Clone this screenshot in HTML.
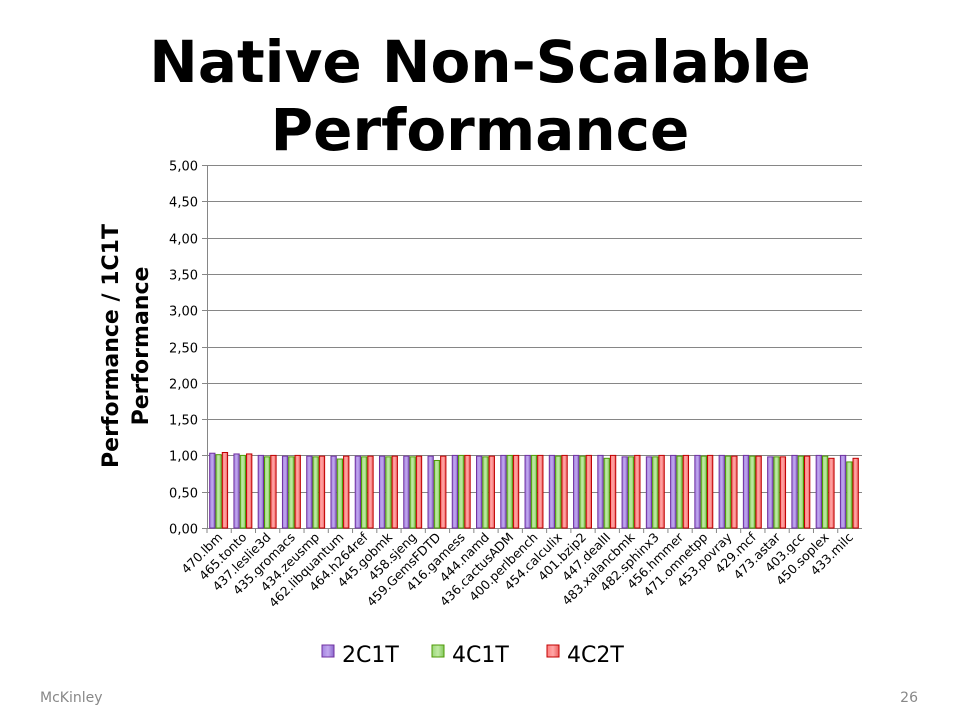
<!DOCTYPE html>
<html><head><meta charset="utf-8"><style>
body{margin:0;background:#fff;width:960px;height:720px;overflow:hidden;font-family:"DejaVu Sans","Liberation Sans",sans-serif}
</style></head><body>
<svg width="960" height="720" id="svg">
<defs>
<linearGradient id="gp" x1="0" x2="1"><stop offset="0" stop-color="#a383e0"/><stop offset="0.5" stop-color="#c2a8ef"/><stop offset="1" stop-color="#8a68cc"/></linearGradient>
<linearGradient id="gg" x1="0" x2="1"><stop offset="0" stop-color="#9bd878"/><stop offset="0.5" stop-color="#c0eaa4"/><stop offset="1" stop-color="#82c85c"/></linearGradient>
<linearGradient id="gr" x1="0" x2="1"><stop offset="0" stop-color="#ff7f7f"/><stop offset="0.5" stop-color="#ffa6a6"/><stop offset="1" stop-color="#ec5f5f"/></linearGradient>
</defs>
<text x="480" y="82" text-anchor="middle" font-size="58" font-weight="bold" font-family="DejaVu Sans,sans-serif">Native Non-Scalable</text>
<text x="480" y="150" text-anchor="middle" font-size="58" font-weight="bold" font-family="DejaVu Sans,sans-serif">Performance</text>
<g transform="translate(118,346) rotate(-90)">
<text x="0" y="0" text-anchor="middle" font-size="22" font-weight="bold">Performance / 1C1T</text>
<text x="0" y="30" text-anchor="middle" font-size="22" font-weight="bold">Performance</text>
</g>
<g id="grid"></g><g id="bars"></g><g id="xl"></g>
<g>
<rect x="322" y="645" width="12" height="12" fill="url(#gp)" stroke="#7030a0"/><text x="342" y="662" font-size="22">2C1T</text>
<rect x="432" y="645" width="12" height="12" fill="url(#gg)" stroke="#4e9a06"/><text x="452" y="662" font-size="22">4C1T</text>
<rect x="547" y="645" width="12" height="12" fill="url(#gr)" stroke="#c00000"/><text x="567" y="662" font-size="22">4C2T</text>
</g>
<text x="40" y="702" font-size="14" fill="#888">McKinley</text>
<text x="918" y="702" font-size="14" fill="#888" text-anchor="end">26</text>
</svg>
<script>
const categories=["470.lbm","465.tonto","437.leslie3d","435.gromacs","434.zeusmp","462.libquantum","464.h264ref","445.gobmk","458.sjeng","459.GemsFDTD","416.gamess","444.namd","436.cactusADM","400.perlbench","454.calculix","401.bzip2","447.dealII","483.xalancbmk","482.sphinx3","456.hmmer","471.omnetpp","453.povray","429.mcf","473.astar","403.gcc","450.soplex","433.milc"];
const s2C1T=[1.03,1.02,1.00,0.99,0.99,0.99,0.99,0.99,0.99,0.99,1.00,0.99,1.00,1.00,1.00,1.00,1.00,0.98,0.98,1.00,1.00,1.00,1.00,0.98,1.00,1.00,1.00];
const s4C1T=[1.01,1.00,0.98,0.98,0.98,0.95,0.98,0.98,0.98,0.93,1.00,0.98,1.00,1.00,0.99,0.99,0.96,0.98,0.98,0.99,0.99,0.99,0.99,0.98,0.99,0.99,0.91];
const s4C2T=[1.04,1.02,1.00,1.00,0.99,0.99,0.99,0.99,0.99,0.99,1.00,0.99,1.00,1.00,1.00,1.00,1.00,1.00,1.00,1.00,1.00,0.99,0.99,0.98,0.99,0.96,0.96];
const yTicks=["0,00","0,50","1,00","1,50","2,00","2,50","3,00","3,50","4,00","4,50","5,00"];
const X0=207,X1=862,Y0=528,Y1=165,YMAX=5;
const y=v=>Y0-(v/YMAX)*(Y0-Y1);
const gw=(X1-X0)/categories.length;
const NS="http://www.w3.org/2000/svg";
function mk(t,a,p){const e=document.createElementNS(NS,t);for(const k in a)e.setAttribute(k,a[k]);p.appendChild(e);return e;}
const grid=document.getElementById('grid');
yTicks.forEach((t,i)=>{const v=i*0.5,yy=Math.round(y(v))+0.5;
const l=mk('line',{x1:X0,x2:X1,y1:yy,y2:yy,stroke:'#868686','stroke-width':1},grid);


mk('line',{x1:X0-5,x2:X0,y1:yy,y2:yy,stroke:'#868686'},grid);
const tx=mk('text',{x:X0-9,y:yy+5,'text-anchor':'end','font-size':13},grid);tx.textContent=t;

});
mk('line',{x1:X0+0.5,x2:X0+0.5,y1:Y1,y2:Y0,stroke:'#868686'},grid);
const bars=document.getElementById('bars'),xl=document.getElementById('xl');
const series=[[s2C1T,'url(#gp)','#7030a0'],[s4C1T,'url(#gg)','#4e9a06'],[s4C2T,'url(#gr)','#c00000']];
const bw=gw*0.26;
categories.forEach((c,i)=>{const gx=X0+i*gw+gw*0.11;
series.forEach((s,j)=>{const v=s[0][i];const r=mk('rect',{x:gx+j*bw,y:y(v),width:bw-1,height:Y0-y(v),fill:s[1],stroke:s[2],'stroke-width':1},bars);

});
const cx=X0+(i+0.5)*gw+4;
const t=mk('text',{x:cx,y:Y0+10,'text-anchor':'end','font-size':12.5,transform:`rotate(-45 ${cx} ${Y0+10})`},xl);t.textContent=c;


mk('line',{x1:X0+i*gw,x2:X0+i*gw,y1:Y0,y2:Y0+5,stroke:'#868686'},grid);});
</script>
</body></html>
